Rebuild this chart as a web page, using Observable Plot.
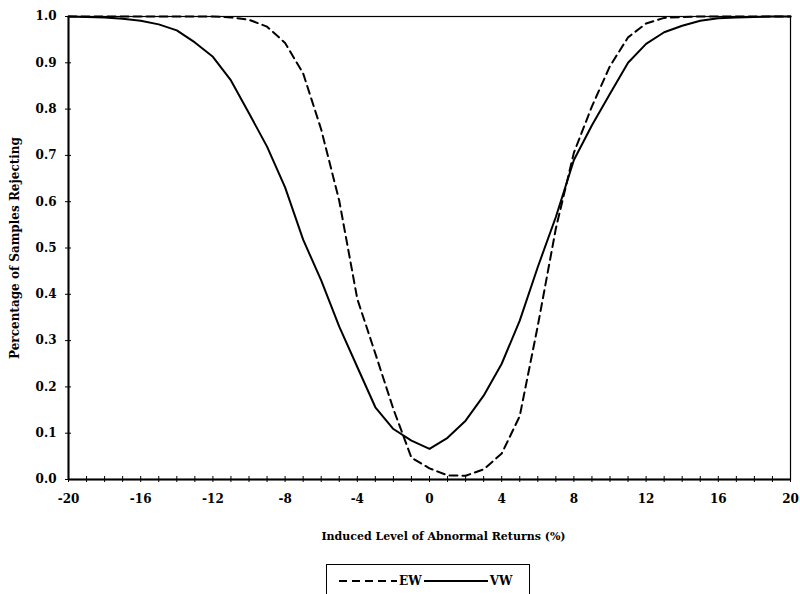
<!DOCTYPE html>
<html>
<head>
<meta charset="utf-8">
<script src="https://cdn.jsdelivr.net/npm/d3@7"></script>
<script src="https://cdn.jsdelivr.net/npm/@observablehq/plot@0.6"></script>
<style>
  html, body { margin: 0; padding: 0; background: #fff; }
  #wrap { position: relative; width: 800px; height: 594px; overflow: hidden; }
  #chart svg, #chart svg text { font-family: "DejaVu Serif", "Liberation Serif", serif !important; }
  #legend {
    position: absolute; left: 326px; top: 564px; width: 204px; height: 34px;
    border: 1px solid #000; box-sizing: border-box;
    font-family: "DejaVu Serif", "Liberation Serif", serif; font-size: 12px; color: #000;
    display: flex; align-items: center; padding-left: 12px;
  }
  #legend svg { display: block; }
  #legend span { margin: 0 2px; font-weight: bold; }
</style>
</head>
<body>
<div id="wrap">
  <div id="chart"></div>
  <div id="legend"></div>
</div>
<script>
// Induced level of abnormal returns (%)
const levels = [-20,-19,-18,-17,-16,-15,-14,-13,-12,-11,-10,-9,-8,-7,-6,-5,-4,-3,-2,-1,0,
                1,2,3,4,5,6,7,8,9,10,11,12,13,14,15,16,17,18,19,20];
// Percentage of samples rejecting, equally weighted
const ew = [1.000,1.000,1.000,1.000,1.000,1.000,1.000,1.000,1.000,0.998,0.993,0.978,0.943,0.877,0.756,0.602,0.390,0.272,0.152,0.047,0.024,
            0.009,0.008,0.022,0.056,0.137,0.332,0.542,0.706,0.806,0.893,0.955,0.985,0.997,0.999,1.000,1.000,1.000,1.000,1.000,1.000];
// Percentage of samples rejecting, value weighted
const vw = [1.000,0.999,0.998,0.995,0.991,0.983,0.970,0.944,0.913,0.862,0.791,0.719,0.631,0.518,0.430,0.330,0.243,0.156,0.109,0.084,0.066,
            0.090,0.127,0.181,0.250,0.343,0.459,0.567,0.690,0.765,0.833,0.900,0.941,0.966,0.980,0.991,0.996,0.998,0.999,1.000,1.000];
const xMinorTicks = levels;
const xLabelTicks = [-20,-16,-12,-8,-4,0,4,8,12,16,20];
const yTicks = [0,0.1,0.2,0.3,0.4,0.5,0.6,0.7,0.8,0.9,1.0];
const seriesNames = ["EW", "VW"];
const xTitle = "Induced Level of Abnormal Returns (%)";
const yTitle = "Percentage of Samples Rejecting";

const ewData = levels.map((x, i) => ({x, y: ew[i]}));
const vwData = levels.map((x, i) => ({x, y: vw[i]}));

const font = "'DejaVu Serif', 'Liberation Serif', serif";

const chart = Plot.plot({
  width: 800,
  height: 555,
  marginLeft: 68,
  marginRight: 10,
  marginTop: 16,
  marginBottom: 76,
  style: {fontFamily: font, fontSize: "12px", background: "#fff", color: "#000"},
  x: {domain: [-20, 20]},
  y: {domain: [0, 1]},
  marks: [
    Plot.frame({stroke: "#000", strokeWidth: 1.2}),
    Plot.axisX({ticks: xMinorTicks, tickSize: 6, dy: -3, tickFormat: () => "", label: null, stroke: "#000", strokeWidth: 1}),
    Plot.axisX({ticks: xLabelTicks, tickSize: 0, tickPadding: 15, label: null, fontWeight: "bold",
                tickFormat: d => String(d)}),
    Plot.axisY({ticks: yTicks, tickSize: 6, dx: 3, tickFormat: () => "", label: null, stroke: "#000", strokeWidth: 1}),
    Plot.axisY({ticks: yTicks, tickSize: 0, tickPadding: 12, label: null, fontWeight: "bold",
                tickFormat: d3.format(".1f")}),
    Plot.ruleY([0], {stroke: "#000", strokeWidth: 2}),
    Plot.ruleX([-20], {stroke: "#000", strokeWidth: 2}),
    Plot.line(vwData, {x: "x", y: "y", stroke: "#000", strokeWidth: 2}),
    Plot.line(ewData, {x: "x", y: "y", stroke: "#000", strokeWidth: 2, strokeDasharray: "8,5"}),
    Plot.text([xTitle], {frameAnchor: "bottom", dx: 14, dy: 57, text: d => d, fontWeight: "bold", fontSize: 11,
                         textAnchor: "middle", lineAnchor: "middle"}),
    Plot.text([yTitle], {frameAnchor: "left", dx: -53, rotate: -90, text: d => d, fontWeight: "bold", fontSize: 12,
                         textAnchor: "middle", lineAnchor: "middle"})
  ]
});
document.getElementById("chart").appendChild(chart);

// Legend
const legend = document.getElementById("legend");
function sample(dash) {
  const ns = "http://www.w3.org/2000/svg";
  const s = document.createElementNS(ns, "svg");
  s.setAttribute("width", dash ? 58 : 64);
  s.setAttribute("height", 10);
  const l = document.createElementNS(ns, "line");
  l.setAttribute("x1", 0); l.setAttribute("x2", dash ? 58 : 64);
  l.setAttribute("y1", 5); l.setAttribute("y2", 5);
  l.setAttribute("stroke", "#000"); l.setAttribute("stroke-width", 2);
  if (dash) l.setAttribute("stroke-dasharray", "8,5");
  s.appendChild(l);
  return s;
}
seriesNames.forEach((name, i) => {
  legend.appendChild(sample(i === 0));
  const sp = document.createElement("span");
  sp.textContent = name;
  legend.appendChild(sp);
});
</script>
</body>
</html>
